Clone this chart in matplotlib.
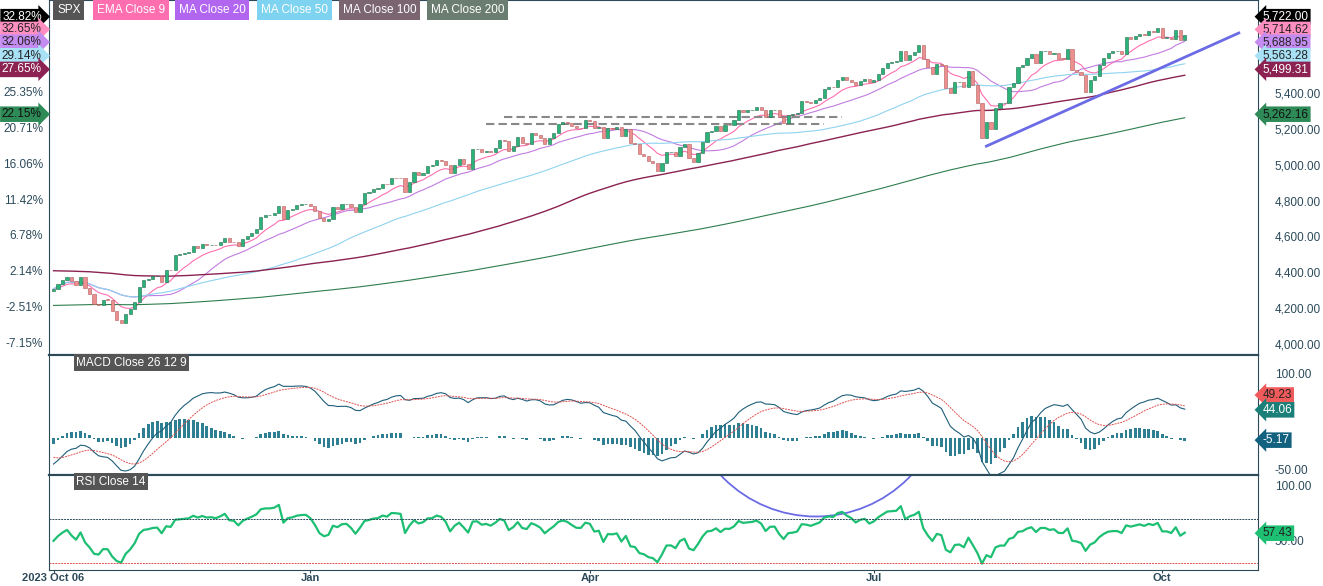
import numpy as np
import pandas as pd
import matplotlib
matplotlib.use("Agg")
import matplotlib.pyplot as plt
from matplotlib.patches import Circle, Rectangle
from matplotlib.transforms import IdentityTransform
from pandas.tseries.holiday import USFederalHolidayCalendar
from pandas.tseries.offsets import CustomBusinessDay

plt.rcParams['font.family'] = ['Liberation Sans', 'DejaVu Sans']

oct23 = [4308,4336,4358,4376,4349,4327,4373,4314,4278,4224,4217,4248,4247,4186,4137,4117,4166,4194]
nov23 = [4237,4318,4358,4365,4378,4382,4347,4415,4411,4496,4502,4508,4514,4547,4538,4557,4550,4554,4550,4568]
dec23 = [4594,4569,4567,4549,4585,4604,4622,4644,4707,4719,4719,4729,4769,4698,4746,4754,4774,4781,4783,4770]
jan24 = [4743,4705,4689,4697,4763,4756,4780,4783,4766,4739,4780,4840,4850,4864,4868,4894,4890,4928,4927,4925,4846]
feb24 = [4906,4958,4942,4954,4995,4997,5026,5021,5000,4953,5000,5030,5005,4976,5087,5089,5070,5078,5069,5096]
mar24 = [5137,5130,5079,5105,5157,5123,5117,5175,5165,5150,5117,5149,5179,5225,5241,5234,5218,5204,5203,5248]
apr24 = [5243,5205,5211,5147,5204,5202,5209,5160,5199,5123,5117,5062,5051,5022,5011,4967,5010,5070,5071,5048,5099,5116]
may24 = [5035,5018,5064,5128,5181,5187,5214,5188,5222,5221,5247,5308,5297,5303,5308,5321,5307,5268,5304,5306,5266,5235]
jun24 = [5278,5283,5291,5354,5352,5346,5360,5375,5421,5433,5431,5473,5487,5473,5464,5447,5469,5477,5460]
jul24 = [5475,5509,5537,5567,5572,5576,5633,5584,5615,5631,5667,5588,5544,5505,5564,5555,5427,5399,5459,5463,5436,5522]
aug24 = [5446,5346,5150,5240,5199,5319,5344,5344,5434,5455,5543,5554,5597,5620,5570,5634,5635,5616,5625,5592,5591,5648]
sep24 = [5528,5520,5503,5408,5471,5495,5554,5596,5626,5633,5634,5618,5713,5703,5718,5732,5722,5745,5738,5762]
oct24 = [5709,5709,5699,5751,5695,5722]

closes = np.array(oct23+nov23+dec23+jan24+feb24+mar24+apr24+may24+jun24+jul24+aug24+sep24+oct24, float)
N = len(closes)
cbd = CustomBusinessDay(calendar=USFederalHolidayCalendar())
dates = pd.date_range("2023-10-06", periods=N, freq=cbd)
opens = np.r_[closes[0] - 10, closes[:-1]]

# indicator seeds from history before the window
ma100_start, ma200_start = 4410, 4215
fast_seed, slow_seed, sig_seed = 4300, 4345, -28
rsi_seed = 12.0

s = pd.Series(closes)
idx = np.arange(N)
ema9 = s.ewm(span=9, adjust=False).mean()
ma20 = s.rolling(20, min_periods=1).mean()
ma50 = s.rolling(50, min_periods=1).mean()
cs = s.cumsum().values
ma100 = pd.Series(np.where(idx < 100, (ma100_start*(100-(idx+1).clip(max=100)) + cs)/100, s.rolling(100, min_periods=1).mean()))
ma200 = pd.Series(np.where(idx < 200, (ma200_start*(200-(idx+1).clip(max=200)) + cs)/200, s.rolling(200, min_periods=1).mean()))

def ema(vals, span, seed):
    a = 2/(span+1); out = []; e = seed
    for v in vals:
        e = a*v + (1-a)*e; out.append(e)
    return pd.Series(out)
macd = ema(closes, 12, fast_seed) - ema(closes, 26, slow_seed)
sig = ema(macd.values, 9, sig_seed)
hist = macd - sig
d = s.diff().fillna(0).values
def wilder(vals, seed):
    out = []; e = seed
    for v in vals:
        e = e + (v - e)/14; out.append(e)
    return np.array(out)
up = wilder(np.clip(d, 0, None), rsi_seed); dn = wilder(np.clip(-d, 0, None), rsi_seed)
rsi = pd.Series(100 - 100/(1+up/dn))

support_x = [207, 263]; support_y = [5104, 5735]
res1 = ([100, 175], 5266); res2 = ([96, 171], 5227)

fig = plt.figure(figsize=(13.23, 5.86), dpi=100)
W, H = 1323, 586
L, R = 49/W, 1258/W
def axrect(top, bot): return [L, 1-bot/H, R-L, (bot-top)/H]
ax = fig.add_axes(axrect(0, 355))
am = fig.add_axes(axrect(355, 475), sharex=ax)
ar = fig.add_axes(axrect(475, 570), sharex=ax)
x = idx
frame = '#2c4a5a'
for a in (ax, am, ar):
    for sp in a.spines.values(): sp.set_color(frame)
    a.yaxis.tick_right()
    a.tick_params(axis='y', length=0, labelsize=8.5, colors='#2c4a5a', pad=12)
    a.tick_params(axis='x', length=0)
ax.spines['bottom'].set_linewidth(1.6); am.spines['bottom'].set_linewidth(1.6)

for i in range(N):
    o, c = opens[i], closes[i]
    col = '#2bb37a' if c >= o else '#eb8f8f'
    ec = '#1e6b4a' if c >= o else '#b35c5c'
    lo, hi = min(o, c), max(o, c)
    ax.add_patch(Rectangle((i-0.35, lo), 0.7, max(hi-lo, 2), facecolor=col, edgecolor=ec, lw=0.4, zorder=3))
ax.plot(x, ema9, color='#ff6fb0', lw=0.8)
ax.plot(x, ma20, color='#c27ce0', lw=0.8)
ax.plot(x, ma50, color='#8fd3f0', lw=0.8)
ax.plot(x, ma100, color='#8b2252', lw=1.0)
ax.plot(x, ma200, color='#2e7d4f', lw=0.8)
ax.plot(support_x, support_y, color='#6b6be6', lw=2)
ax.plot(res1[0], [res1[1]]*2, color='#888', lw=1.5, ls=(0, (4, 2)))
ax.plot(res2[0], [res2[1]]*2, color='#888', lw=1.5, ls=(0, (4, 2)))
ax.set_xlim(-1, (1258-50)/4.52)
ax.set_ylim(3939, 5919)
pt = np.arange(4000, 5401, 200)
ax.set_yticks(pt); ax.set_yticklabels([f'{v:,.2f}' for v in pt])
base = closes[0]
for v in pt:
    ax.text(-0.005, v, f'{(v/base-1)*100:.2f}%', transform=ax.get_yaxis_transform(), ha='right', va='center', fontsize=8.5, color='#2c4a5a')
series = [(closes[-1], '#000000', 'white'), (ema9.iloc[-1], '#ff8fc0', '#222'), (ma20.iloc[-1], '#c48cf0', '#222'),
          (ma50.iloc[-1], '#a8e0f5', '#222'), (ma100.iloc[-1], '#8b2252', 'white'), (ma200.iloc[-1], '#2e8b57', '#111')]
tag_y = [5826, 5755, 5684, 5608, 5532, 5282]
for (v, bg, fg), ty in zip(series, tag_y):
    ax.text(1.004, ty, f'{v:,.2f}', transform=ax.get_yaxis_transform(), ha='left', va='center', fontsize=8.5, color=fg,
            bbox=dict(boxstyle='larrow,pad=0.15', fc=bg, ec='none'))
    ax.text(-0.006, ty, f'{(v/base-1)*100:.2f}%', transform=ax.get_yaxis_transform(), ha='right', va='center', fontsize=8.5, color=fg,
            bbox=dict(boxstyle='rarrow,pad=0.15', fc=bg, ec='none'))
legs = [('SPX', '#555555', 'white'), ('EMA Close 9', '#ff6fb0', 'white'), ('MA Close 20', '#b266f0', 'white'),
        ('MA Close 50', '#7dd3f0', 'white'), ('MA Close 100', '#7a6570', 'white'), ('MA Close 200', '#6b7d70', 'white')]
lx = [57, 97, 179, 261, 343, 431]
for (t, bg, fg), px in zip(legs, lx):
    fig.text(px/W, 1-10/H, t, fontsize=8.5, color=fg, va='center', ha='left', bbox=dict(boxstyle='square,pad=0.3', fc=bg, ec='none'))

am.bar(x, hist, width=0.6, color='#2f7f92')
am.plot(x, macd, color='#1f5f7a', lw=0.8)
am.plot(x, sig, color='#e05050', lw=0.7, ls=(0, (2, 1)))
am.set_ylim(-58, 128)
am.set_yticks([100, -50]); am.set_yticklabels(['100.00', '-50.00'])
for v, ty, bg, fg in [(sig.iloc[-1], 66, '#f05a5a', '#222'), (macd.iloc[-1], 43, '#1a7f78', 'white'), (hist.iloc[-1], -4, '#12627f', 'white')]:
    am.text(1.004, ty, f'{v:.2f}', transform=am.get_yaxis_transform(), ha='left', va='center', fontsize=8.5, color=fg,
            bbox=dict(boxstyle='larrow,pad=0.15', fc=bg, ec='none'))
am.text(5, 116, 'MACD Close 26 12 9', fontsize=8.5, color='white', va='center', bbox=dict(boxstyle='square,pad=0.2', fc='#555', ec='none'))

ar.plot(x, rsi, color='#1dbf73', lw=1.6)
ar.axhline(70, color='#2c4a5a', lw=0.7, ls=(0, (2, 1)))
ar.axhline(30, color='#e05050', lw=0.7, ls=(0, (2, 1)))
ar.set_ylim(23.5, 110)
ar.set_yticks([100, 50]); ar.set_yticklabels(['100.00', '50.00'])
ar.text(1.004, 57, f'{rsi.iloc[-1]:.2f}', transform=ar.get_yaxis_transform(), ha='left', va='center', fontsize=8.5, color='#222',
        bbox=dict(boxstyle='larrow,pad=0.15', fc='#1dbf73', ec='none'))
ar.text(5, 104, 'RSI Close 14', fontsize=8.5, color='white', va='center', bbox=dict(boxstyle='square,pad=0.2', fc='#555', ec='none'))
c = Circle((816, H-386), 130.5, transform=IdentityTransform(), fill=False, ec='#6b6be6', lw=1.3)
ar.add_artist(c); c.set_clip_path(ar.patch)

tick_dates = ['2023-10-06', '2024-01-02', '2024-04-01', '2024-07-01', '2024-10-01']
tick_labels = ['2023 Oct 06', 'Jan', 'Apr', 'Jul', 'Oct']
tpos = [int(np.searchsorted(dates, pd.Timestamp(t))) for t in tick_dates]
ar.set_xticks(tpos); ar.set_xticklabels(tick_labels, fontsize=8, color='#2c4a5a', fontweight='bold')
ar.tick_params(axis='x', length=2, color=frame, pad=0.5)
plt.setp(ax.get_xticklabels(), visible=False); plt.setp(am.get_xticklabels(), visible=False)
fig.savefig('out.png', dpi=100)
